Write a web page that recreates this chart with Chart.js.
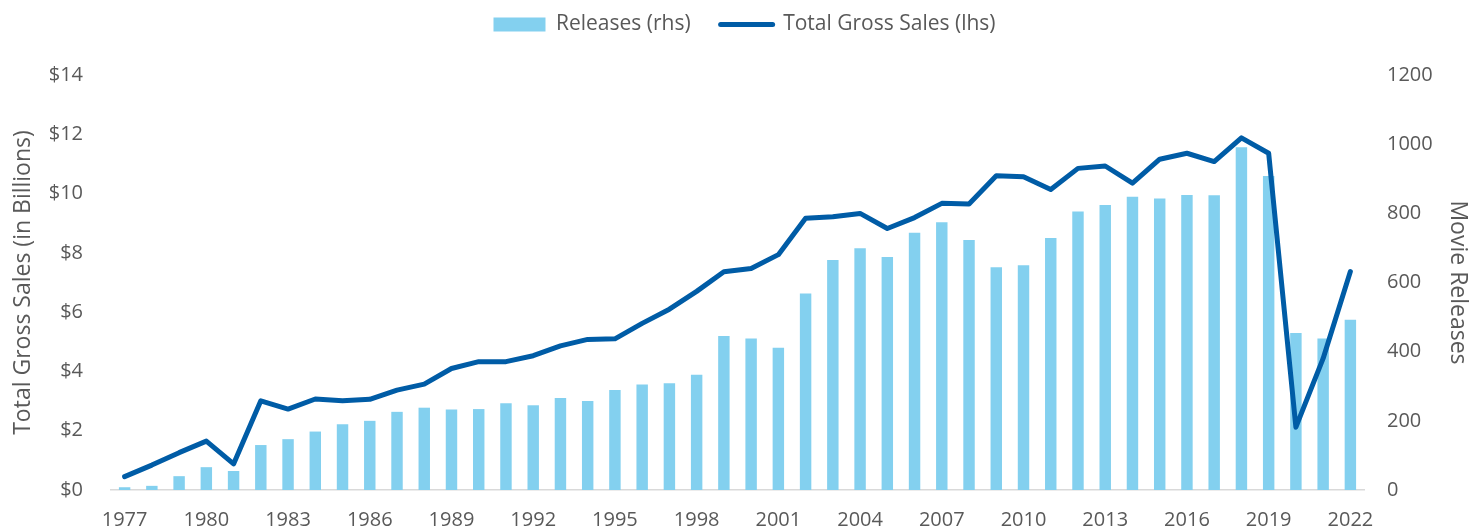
<!DOCTYPE html>
<html lang="en">
<head>
  <meta charset="UTF-8">
  <title>Total Gross Sales and Movie Releases</title>
  <script src="https://cdn.jsdelivr.net/npm/chart.js"></script>
  <style>
    body {
      margin: 0;
      padding: 0;
      background: #ffffff;
    }

    .chart-container {
      position: relative;
      width: 1471px;
      height: 531px;
    }
  </style>
</head>
<body>
  <div class="chart-container">
    <canvas id="salesChart"></canvas>
  </div>

  <script>
    // Years on the x axis
    const years = [
      1977, 1978, 1979, 1980, 1981, 1982, 1983, 1984, 1985, 1986,
      1987, 1988, 1989, 1990, 1991, 1992, 1993, 1994, 1995, 1996,
      1997, 1998, 1999, 2000, 2001, 2002, 2003, 2004, 2005, 2006,
      2007, 2008, 2009, 2010, 2011, 2012, 2013, 2014, 2015, 2016,
      2017, 2018, 2019, 2020, 2021, 2022
    ];

    // Movie releases per year (right axis)
    const releases = [
      8, 12, 40, 66, 55, 130, 147, 169, 190, 200,
      226, 238, 233, 234, 251, 245, 266, 257, 289, 305,
      309, 333, 445, 438, 411, 568, 665, 699, 674, 744,
      774, 723, 644, 650, 729, 805, 824, 848, 843, 853,
      852, 991, 908, 454, 438, 492
    ];

    // Total gross sales in billions of dollars (left axis)
    const grossSales = [
      0.45, 0.84, 1.26, 1.65, 0.88, 3.01, 2.73, 3.07, 3.01, 3.06,
      3.37, 3.57, 4.10, 4.33, 4.33, 4.53, 4.86, 5.08, 5.10, 5.62,
      6.10, 6.70, 7.36, 7.47, 7.94, 9.17, 9.22, 9.33, 8.82, 9.19,
      9.67, 9.65, 10.60, 10.57, 10.14, 10.85, 10.93, 10.35, 11.16, 11.36,
      11.08, 11.88, 11.36, 2.12, 4.44, 7.37
    ];

    const textColor = '#595959';

    Chart.defaults.font.family = '"Open Sans", Lato, sans-serif';
    Chart.defaults.font.size = 20;
    Chart.defaults.color = textColor;

    // make the legend box taller so the plot starts lower,
    // and nudge it a little to the right
    const legendTweak = {
      id: 'legendTweak',
      beforeInit(chart) {
        const origFit = chart.legend.fit;
        chart.legend.fit = function fit() {
          origFit.bind(chart.legend)();
          this.height = 91;
        };
      },
      afterLayout(chart) {
        chart.legend.left += 4;
        chart.legend.right += 4;
      }
    };

    const config = {
      data: {
        labels: years,
        datasets: [
          {
            type: 'bar',
            label: 'Releases (rhs)',
            data: releases,
            yAxisID: 'yRight',
            backgroundColor: '#83D0EF',
            categoryPercentage: 1,
            barPercentage: 0.42,
            order: 2
          },
          {
            type: 'line',
            label: 'Total Gross Sales (lhs)',
            data: grossSales,
            yAxisID: 'yLeft',
            borderColor: '#005CA6',
            backgroundColor: '#005CA6',
            borderWidth: 5,
            pointRadius: 0,
            tension: 0,
            borderJoinStyle: 'round',
            borderCapStyle: 'round',
            order: 1
          }
        ]
      },
      options: {
        responsive: true,
        maintainAspectRatio: false,
        animation: false,
        layout: {
          padding: { top: -16, bottom: 0, left: 10, right: 0 }
        },
        plugins: {
          legend: {
            position: 'top',
            labels: {
              usePointStyle: true,
              pointStyleWidth: 52,
              boxHeight: 14,
              padding: 30,
              font: { size: 21 },
              sort: function (a, b) {
                return a.datasetIndex - b.datasetIndex;
              },
              generateLabels: function (chart) {
                const items = Chart.defaults.plugins.legend.labels.generateLabels(chart);
                items.forEach(function (item) {
                  if (item.datasetIndex === 0) {
                    item.pointStyle = 'rect';
                    item.lineWidth = 0;
                    item.strokeStyle = 'rgba(0,0,0,0)';
                  } else {
                    item.pointStyle = 'line';
                    item.lineWidth = 5;
                    item.lineCap = 'round';
                    item.strokeStyle = '#005CA6';
                  }
                });
                return items;
              }
            }
          },
          tooltip: { enabled: false }
        },
        scales: {
          x: {
            grid: { display: false, drawTicks: false },
            border: { display: true, color: '#D9D9D9', width: 1.5 },
            ticks: {
              autoSkip: false,
              maxRotation: 0,
              padding: 18,
              callback: function (value, index) {
                return index % 3 === 0 ? this.getLabelForValue(value) : '';
              }
            },
            afterFit: function (scale) {
              scale.height = 41;
            }
          },
          yLeft: {
            type: 'linear',
            position: 'left',
            min: 0,
            max: 14,
            grid: { display: false, drawTicks: false },
            border: { display: false },
            ticks: {
              stepSize: 2,
              padding: 28,
              callback: function (value) {
                return '$' + value;
              }
            },
            title: {
              display: true,
              text: 'Total Gross Sales (in Billions)',
              font: { size: 23 },
              padding: 0
            },
            afterFit: function (scale) {
              scale.width = 101;
            }
          },
          yRight: {
            type: 'linear',
            position: 'right',
            min: 0,
            max: 1200,
            grid: { display: false, drawTicks: false },
            border: { display: false },
            ticks: {
              stepSize: 200,
              padding: 23,
              callback: function (value) {
                return String(value);
              }
            },
            title: {
              display: true,
              text: 'Movie Releases',
              font: { size: 23 },
              padding: 0
            },
            afterFit: function (scale) {
              scale.width = 107;
            }
          }
        }
      },
      plugins: [legendTweak]
    };

    const salesChart = new Chart(
      document.getElementById('salesChart'),
      config
    );
  </script>
</body>
</html>
